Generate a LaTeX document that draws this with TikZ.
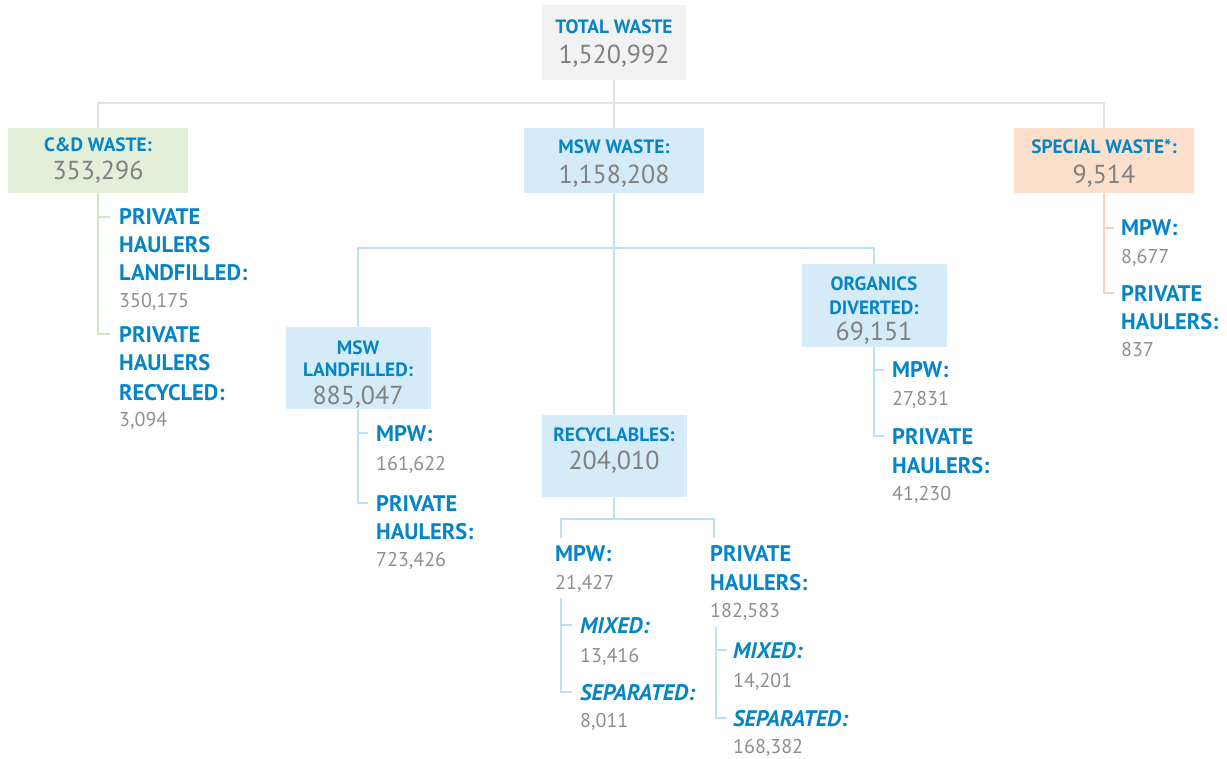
\documentclass[tikz,border=0pt]{standalone}
\usepackage{fontspec}
\setmainfont{PT Sans}
\definecolor{labblue}{HTML}{0685C6}
\definecolor{numgray}{HTML}{8E8E8E}
\definecolor{boxnum}{HTML}{808080}
\definecolor{totfill}{HTML}{F2F2F2}
\definecolor{cdfill}{HTML}{E2EFD9}
\definecolor{mswfill}{HTML}{D5ECF8}
\definecolor{spfill}{HTML}{FCE0CB}
\definecolor{grayline}{HTML}{E3E3E3}
\definecolor{blueline}{HTML}{BDE1F4}
\definecolor{greenline}{HTML}{D3E6C3}
\definecolor{peachline}{HTML}{FBD2B3}
\tikzset{
  box/.style={rectangle, inner sep=0pt, draw=none},
  btitle/.style={anchor=base, inner sep=0pt, text=labblue, font=\fontsize{19.3}{23}\selectfont\bfseries},
  bnum/.style={anchor=base, inner sep=0pt, text=boxnum, font=\fontsize{26}{30}\selectfont},
  lab/.style={anchor=base west, inner sep=0pt, text=labblue, font=\fontsize{22.5}{27}\selectfont\bfseries},
  ilab/.style={anchor=base west, inner sep=0pt, text=labblue, font=\fontsize{22.5}{27}\selectfont\bfseries\itshape},
  num/.style={anchor=base west, inner sep=0pt, text=numgray, font=\fontsize{20}{24}\selectfont},
  gl/.style={draw=grayline, line width=2pt},
  bl/.style={draw=blueline, line width=2pt},
  grl/.style={draw=greenline, line width=2pt},
  pl/.style={draw=peachline, line width=2pt},
}
\begin{document}
\begin{tikzpicture}[x=1pt,y=-1pt]
\useasboundingbox (0,0) rectangle (1227,759);
% ---- boxes
\node[box, fill=totfill, minimum width=144pt, minimum height=75pt] (total) at (614,42.5) {};
\node[box, fill=cdfill, minimum width=180pt, minimum height=65pt] (cd) at (98,160.5) {};
\node[box, fill=mswfill, minimum width=180pt, minimum height=65pt] (msw) at (614,160.5) {};
\node[box, fill=spfill, minimum width=180pt, minimum height=65pt] (sp) at (1104,160.5) {};
\node[box, fill=mswfill, minimum width=145pt, minimum height=82pt] (mswl) at (358,368) {};
\node[box, fill=mswfill, minimum width=145pt, minimum height=83pt] (org) at (874,305.5) {};
\node[box, fill=mswfill, minimum width=145pt, minimum height=82pt] (rec) at (614,456) {};
% ---- box texts
\node[btitle] (total-t) at (614,33.7) {TOTAL WASTE};
\node[bnum] (total-n) at (614,64) {1,520,992};
\node[btitle] (cd-t) at (98,151.7) {C\&D WASTE:};
\node[bnum] (cd-n) at (98,180) {353,296};
\node[btitle] (msw-t) at (614,153.7) {MSW WASTE:};
\node[bnum] (msw-n) at (614,184) {1,158,208};
\node[btitle] (sp-t) at (1104,153.7) {SPECIAL WASTE*:};
\node[bnum] (sp-n) at (1104,184) {9,514};
\node[btitle] (mswl-t1) at (358,354.7) {MSW};
\node[btitle] (mswl-t2) at (358,376.7) {LANDFILLED:};
\node[bnum] (mswl-n) at (358,404) {885,047};
\node[btitle] (org-t1) at (874,290.7) {ORGANICS};
\node[btitle] (org-t2) at (874,314.7) {DIVERTED:};
\node[bnum] (org-n) at (874,341) {69,151};
\node[btitle] (rec-t) at (614,441.7) {RECYCLABLES:};
\node[bnum] (rec-n) at (614,469) {204,010};
% ---- C&D children
\node[lab] (cd1a) at (119,225) {PRIVATE};
\node[lab] (cd1b) at (119,253) {HAULERS};
\node[lab] (cd1c) at (119,281) {LANDFILLED:};
\node[num] (cd1n) at (119,308) {350,175};
\node[lab] (cd2a) at (119,343) {PRIVATE};
\node[lab] (cd2b) at (119,371) {HAULERS};
\node[lab] (cd2c) at (119,400) {RECYCLED:};
\node[num] (cd2n) at (119,427) {3,094};
% ---- MSW landfilled children
\node[lab] (ml1) at (376,441) {MPW:};
\node[num] (ml1n) at (376,470) {161,622};
\node[lab] (ml2a) at (376,511) {PRIVATE};
\node[lab] (ml2b) at (376,539) {HAULERS:};
\node[num] (ml2n) at (376,566) {723,426};
% ---- organics children
\node[lab] (og1) at (892,378) {MPW:};
\node[num] (og1n) at (892,406) {27,831};
\node[lab] (og2a) at (892,444) {PRIVATE};
\node[lab] (og2b) at (892,473) {HAULERS:};
\node[num] (og2n) at (892,500) {41,230};
% ---- recyclables children
\node[lab] (rm) at (555,561) {MPW:};
\node[num] (rmn) at (555,589) {21,427};
\node[ilab] (rm1) at (580,633) {MIXED:};
\node[num] (rm1n) at (580,662) {13,416};
\node[ilab] (rm2) at (580,700) {SEPARATED:};
\node[num] (rm2n) at (580,727) {8,011};
\node[lab] (rpa) at (710,561) {PRIVATE};
\node[lab] (rpb) at (710,590) {HAULERS:};
\node[num] (rpn) at (710,617) {182,583};
\node[ilab] (rp1) at (733,658) {MIXED:};
\node[num] (rp1n) at (733,687) {14,201};
\node[ilab] (rp2) at (733,726) {SEPARATED:};
\node[num] (rp2n) at (733,753) {168,382};
% ---- special children
\node[lab] (sp1) at (1121,236) {MPW:};
\node[num] (sp1n) at (1121,264) {8,677};
\node[lab] (sp2a) at (1121,302) {PRIVATE};
\node[lab] (sp2b) at (1121,330) {HAULERS:};
\node[num] (sp2n) at (1121,357) {837};
% ---- junction coordinates
\coordinate (j0) at (614,103);
\coordinate (j1) at (614,248);
\coordinate (j2) at (614,519);
\coordinate (cdt1) at (110,217);
\coordinate (cdt2) at (110,334);
\coordinate (mlt1) at (368,433);
\coordinate (mlt2) at (368,503);
\coordinate (ogt1) at (884,370);
\coordinate (ogt2) at (884,436);
\coordinate (spt1) at (1114,228);
\coordinate (spt2) at (1114,293);
\coordinate (rmtop) at (561,538);
\coordinate (rptop) at (714,538);
\coordinate (rms) at (561,598);
\coordinate (rmt1) at (572,625);
\coordinate (rmt2) at (572,692);
\coordinate (rps) at (716,627);
\coordinate (rpt1) at (727,650);
\coordinate (rpt2) at (727,718);
% ---- connectors
\draw[gl] (total.south) -- (j0);
\draw[gl] (cd.north) |- (j0) -| (sp.north);
\draw[gl] (j0) -- (msw.north);
\draw[grl] (cd.south) |- (cdt2);
\draw[grl] (cd.south |- cdt1) -- (cdt1);
\draw[pl] (sp.south) |- (spt2);
\draw[pl] (sp.south |- spt1) -- (spt1);
\draw[bl] (msw.south) -- (rec.north);
\draw[bl] (mswl.north) |- (j1) -| (org.north);
\draw[bl] (mswl.south) |- (mlt2);
\draw[bl] (mswl.south |- mlt1) -- (mlt1);
\draw[bl] (org.south) |- (ogt2);
\draw[bl] (org.south |- ogt1) -- (ogt1);
\draw[bl] (rec.south) -- (j2);
\draw[bl] (rmtop) |- (j2) -| (rptop);
\draw[bl] (rms) |- (rmt2);
\draw[bl] (rms |- rmt1) -- (rmt1);
\draw[bl] (rps) |- (rpt2);
\draw[bl] (rps |- rpt1) -- (rpt1);
\end{tikzpicture}
\end{document}
